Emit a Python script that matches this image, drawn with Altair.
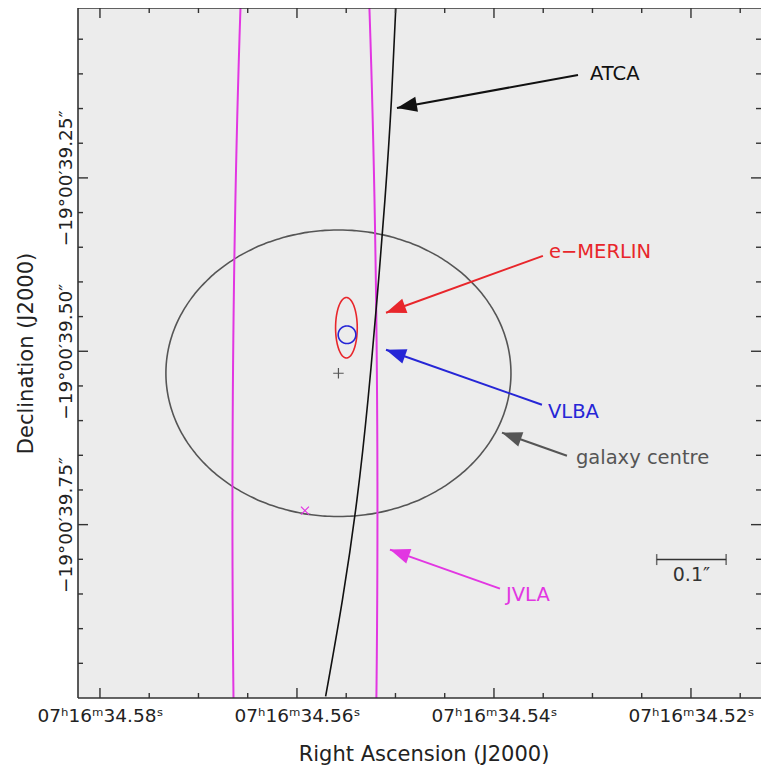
import math
import numpy as np
import pandas as pd
import altair as alt

# ---------------- data (RA = seconds of 07h16m, Dec = arcsec of -19d00m) ----------------
ra_major = [34.58, 34.56, 34.54, 34.52]
ra_minor = [34.575, 34.57, 34.565, 34.555, 34.55, 34.545, 34.535, 34.53, 34.525, 34.515]
dec_major = [39.25, 39.50, 39.75]
dec_minor = [39.05, 39.10, 39.15, 39.20, 39.30, 39.35, 39.40, 39.45,
             39.55, 39.60, 39.65, 39.70, 39.80, 39.85, 39.90, 39.95]

# positional error ellipses: centre, E-W and N-S semi-axes (arcsec)
ell_name = ["galaxy centre", "e−MERLIN", "VLBA", "JVLA"]
ell_ra = [34.55579, 34.55498, 34.55492, 34.55919]
ell_dec = [39.5317, 39.4661, 39.4762, 39.7298]
ell_a = [0.2484, 0.0156, 0.0127, 0.1044]
ell_b = [0.2066, 0.0436, 0.0127, 1.584]

# ATCA error-ellipse edge
atca_ra = [34.54995, 34.55041, 34.55107, 34.55188, 34.55279, 34.55391, 34.55538, 34.55709]
atca_dec = [38.9993, 39.1376, 39.2817, 39.4258, 39.5699, 39.7140, 39.8581, 39.9978]

# annotations
arr_label = ["ATCA", "e−MERLIN", "VLBA", "galaxy centre", "JVLA"]
arr_tail_ra = [34.53147, 34.53503, 34.53513, 34.53259, 34.53939]
arr_tail_dec = [39.1016, 39.3624, 39.5771, 39.6506, 39.8422]
arr_tip_ra = [34.54985, 34.55096, 34.55096, 34.53919, 34.55056]
arr_tip_dec = [39.1491, 39.4445, 39.4978, 39.6174, 39.7860]
lab_ra = [34.53025, 34.53442, 34.53452, 34.53168, 34.53878]
lab_dec = [39.1001, 39.3566, 39.5872, 39.6535, 39.8509]

# scale bar
bar_ra = 34.52348
bar_dec = 39.8004
bar_len = 0.1  # arcsec
bar_text = "0.1″"

colors = {"ATCA": "#111111", "e−MERLIN": "#e8262b", "VLBA": "#2626d6",
          "galaxy centre": "#555555", "JVLA": "#e236e2"}

# ---------------- layout ----------------
W, H = 683, 690
MAJ, MIN = 10, 5
K = 15 * math.cos(math.radians(19 + 39.5 / 3600))  # arcsec per RA second

xs = alt.Scale(domain=[34.51289, 34.58223], reverse=True, nice=False, zero=False)
ys = alt.Scale(domain=[39.005, 40.0], reverse=True, nice=False, zero=False)
cscale = alt.Scale(domain=list(colors.keys()), range=list(colors.values()))
FONT = "DejaVu Sans"
TXT = "#222222"

x_axis = alt.Axis(
    values=ra_major, labelExpr="'07ʰ16ᵐ' + format(datum.value, '.2f') + 'ˢ'",
    ticks=False, tickSize=0, domain=False, grid=False, labelFont=FONT, labelFontSize=18.5,
    labelColor=TXT, labelPadding=23, labelBaseline="alphabetic", labelAlign="center",
    labelFlush=False, labelOverlap=False,
    title="Right Ascension (J2000)", titleFont=FONT, titleFontSize=21, titleFontWeight="normal",
    titleColor=TXT, titleX=345.5, titleY=62, titleBaseline="alphabetic", titleAlign="center",
)
y_axis = alt.Axis(
    values=dec_major, labelExpr="'−19°00′' + format(datum.value, '.2f') + '″'",
    ticks=False, tickSize=0, domain=False, grid=False, labelFont=FONT, labelFontSize=18.5,
    labelColor=TXT, labelPadding=7, labelAngle=270, labelBaseline="alphabetic",
    labelAlign="center", labelFlush=False, labelOverlap=False,
    title="Declination (J2000)", titleFont=FONT, titleFontSize=21, titleFontWeight="normal",
    titleColor=TXT, titleX=-46, titleY=H / 2, titleAngle=270,
    titleBaseline="alphabetic", titleAlign="center",
)


def X(f):
    return alt.X(f, scale=xs, axis=x_axis)


def Y(f):
    return alt.Y(f, scale=ys, axis=y_axis)


COL = alt.Color("name:N", scale=cscale, legend=None)

# ---------------- build tables ----------------
rows = []
for n, r0, d0, a, b in zip(ell_name, ell_ra, ell_dec, ell_a, ell_b):
    sw = 2.0 if n == "JVLA" else 1.6
    for i, t in enumerate(np.linspace(0, 2 * np.pi, 241)):
        rows.append({"name": n, "i": i, "ra": r0 + a * np.cos(t) / K,
                     "dec": d0 + b * np.sin(t), "sw": sw})
for i, (r, d) in enumerate(zip(atca_ra, atca_dec)):
    rows.append({"name": "ATCA", "i": i, "ra": r, "dec": d, "sw": 1.6})
curves = pd.DataFrame(rows)

arrows = pd.DataFrame({
    "name": arr_label, "ra": arr_tail_ra, "dec": arr_tail_dec,
    "ra2": arr_tip_ra, "dec2": arr_tip_dec, "lra": lab_ra, "ldec": lab_dec,
})
arrows["ang"] = [
    math.degrees(math.atan2(d2 - d1, -(r2 - r1) * K)) % 360
    for r1, d1, r2, d2 in zip(arr_tail_ra, arr_tail_dec, arr_tip_ra, arr_tip_dec)
]

bar = pd.DataFrame({"ra": [bar_ra], "ra2": [bar_ra - bar_len / K], "dec": [bar_dec],
                    "mid": [bar_ra - bar_len / K / 2], "txt": [bar_text]})
bar_ends = pd.DataFrame({"ra": [bar_ra, bar_ra - bar_len / K], "dec": [bar_dec, bar_dec]})

markers = pd.DataFrame({"name": ["galaxy centre", "JVLA"],
                        "ra": [ell_ra[0], ell_ra[3]], "dec": [ell_dec[0], ell_dec[3]]})

# ---------------- layers ----------------
curve_layer = alt.Chart(curves).mark_line(clip=True, interpolate="natural").encode(
    x=X("ra:Q"), y=Y("dec:Q"), color=COL, detail="name:N", order="i:Q",
    strokeWidth=alt.StrokeWidth("sw:Q", scale=None),
)
arrow_lines = alt.Chart(arrows).mark_rule(strokeWidth=2).encode(
    x=X("ra:Q"), y=Y("dec:Q"), x2="ra2:Q", y2="dec2:Q", color=COL,
)
arrow_heads = alt.Chart(arrows).mark_point(
    shape="M0,0L-1,-0.38L-1,0.38Z", filled=True, size=1600, opacity=1, strokeWidth=0
).encode(
    x=X("ra2:Q"), y=Y("dec2:Q"), angle=alt.Angle("ang:Q", scale=None), color=COL,
)
labels = alt.Chart(arrows).mark_text(align="left", baseline="middle", font=FONT, fontSize=19.5).encode(
    x=X("lra:Q"), y=Y("ldec:Q"), text="name:N", color=COL,
)
plus = alt.Chart(markers[markers.name == "galaxy centre"]).mark_point(
    shape="M-1,0L1,0M0,-1L0,1", size=110, strokeWidth=1.2, filled=False, opacity=1
).encode(x=X("ra:Q"), y=Y("dec:Q"), color=COL)
cross = alt.Chart(markers[markers.name == "JVLA"]).mark_point(
    shape="M-1,-1L1,1M-1,1L1,-1", size=64, strokeWidth=1.2, filled=False, opacity=1
).encode(x=X("ra:Q"), y=Y("dec:Q"), color=COL)

bar_line = alt.Chart(bar).mark_rule(color="#333333", strokeWidth=1.5).encode(
    x=X("ra:Q"), x2="ra2:Q", y=Y("dec:Q"),
)
bar_caps = alt.Chart(bar_ends).mark_tick(color="#333333", orient="vertical", size=11, thickness=1.5).encode(
    x=X("ra:Q"), y=Y("dec:Q"),
)
bar_label = alt.Chart(bar).mark_text(baseline="top", dy=6, font=FONT, fontSize=19, color="#333333").encode(
    x=X("mid:Q"), y=Y("dec:Q"), text="txt:N",
)

TC = "#333333"
one = pd.DataFrame({"ra": ra_major[:1]})
frame = [
    alt.Chart(one).mark_rule(color=TC, strokeWidth=1.6).encode(
        x=alt.value(0), y=alt.value(0), y2=alt.value(H)),
    alt.Chart(one).mark_rule(color=TC, strokeWidth=1.6).encode(
        x=alt.value(0), x2=alt.value(W), y=alt.value(0)),
    alt.Chart(one).mark_rule(color=TC, strokeWidth=1.6).encode(
        x=alt.value(0), x2=alt.value(W), y=alt.value(H)),
]


def xticks(vals, L):
    df = pd.DataFrame({"ra": vals})
    top = alt.Chart(df).mark_rule(color=TC, strokeWidth=1.4).encode(
        x=X("ra:Q"), y=alt.value(0), y2=alt.value(L))
    bot = alt.Chart(df).mark_rule(color=TC, strokeWidth=1.4).encode(
        x=X("ra:Q"), y=alt.value(H), y2=alt.value(H - L))
    return [top, bot]


def yticks(vals, L):
    df = pd.DataFrame({"dec": vals})
    left = alt.Chart(df).mark_rule(color=TC, strokeWidth=1.4).encode(
        y=Y("dec:Q"), x=alt.value(0), x2=alt.value(L))
    right = alt.Chart(df).mark_rule(color=TC, strokeWidth=1.4).encode(
        y=Y("dec:Q"), x=alt.value(W), x2=alt.value(W - L))
    return [left, right]


layers = [curve_layer, arrow_lines, arrow_heads, labels, plus, cross,
          bar_line, bar_caps, bar_label]
layers += xticks(ra_major, MAJ) + xticks(ra_minor, MIN)
layers += yticks(dec_major, MAJ) + yticks(dec_minor, MIN)
layers += frame

chart = alt.layer(*layers).properties(
    width=W, height=H,
    autosize=alt.AutoSizeParams(type="none"),
    padding={"left": 70, "top": 0, "right": 0, "bottom": 70},
).configure_view(fill="#ececec", stroke=None)

chart.save("out.html", embed_options={"renderer": "svg", "actions": False})
